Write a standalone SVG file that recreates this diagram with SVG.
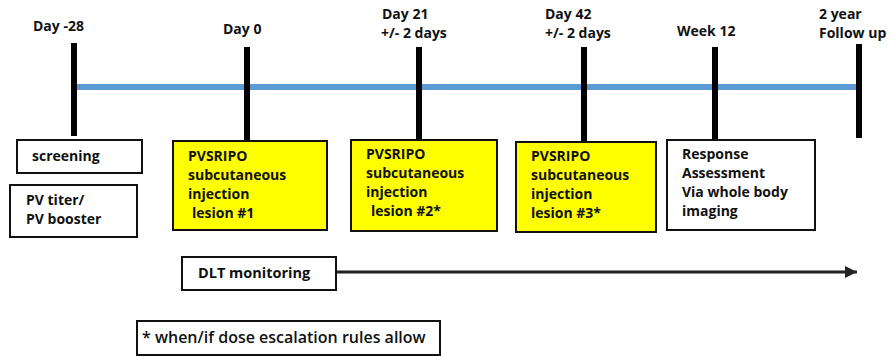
<svg xmlns="http://www.w3.org/2000/svg" width="894" height="356" viewBox="0 0 894 356">
<style>
text{font-family:"Open Sans","DejaVu Sans",sans-serif;font-weight:700;font-size:14px;fill:#111}
.box{fill:#fff;stroke:#111;stroke-width:2}
.yb{fill:#ffff00;stroke:#111;stroke-width:2}
.tick{stroke:#000;stroke-width:6}
.foot{font-weight:600;font-size:16px}
.dl{font-size:14.5px}
</style>
<defs>
<marker id="ah" viewBox="0 0 10 10" refX="10" refY="5" markerWidth="4" markerHeight="4" orient="auto" markerUnits="strokeWidth">
<path d="M0,0 L10,5 L0,10 z" fill="#222"/>
</marker>
</defs>
<g id="connectors">
<line x1="77" y1="87" x2="857" y2="87" stroke="#5b9bd5" stroke-width="6"/>
<line class="tick" x1="74" y1="43" x2="74" y2="136"/>
<line class="tick" x1="247" y1="47" x2="247" y2="141"/>
<line class="tick" x1="419" y1="47" x2="419" y2="140"/>
<line class="tick" x1="584" y1="47" x2="584" y2="142"/>
<line class="tick" x1="715" y1="47" x2="715" y2="140"/>
<line class="tick" x1="859" y1="44" x2="859" y2="138"/>
<line x1="336" y1="272" x2="857" y2="272" stroke="#222" stroke-width="3" marker-end="url(#ah)"/>
</g>
<g id="labels">
<text x="33" y="31">Day -28</text>
<text x="223" y="34">Day 0</text>
<text x="382" y="19">Day 21</text>
<text x="381" y="38">+/- 2 days</text>
<text x="545" y="19">Day 42</text>
<text x="545" y="38">+/- 2 days</text>
<text x="677" y="36">Week 12</text>
<text x="819" y="19">2 year</text>
<text x="819" y="38">Follow up</text>
</g>
<g id="screening">
<rect class="box" x="17" y="140" width="125" height="33"/>
<text x="32" y="161">screening</text>
</g>
<g id="pv-titer">
<rect class="box" x="10" y="185" width="127" height="52"/>
<text x="26" y="205">PV titer/</text>
<text x="26" y="224">PV booster</text>
</g>
<g id="lesion1">
<rect class="yb" x="173" y="141" width="154" height="89"/>
<text x="188" y="161">PVSRIPO</text>
<text x="188" y="180">subcutaneous</text>
<text x="188" y="199">injection</text>
<text x="192" y="218">lesion #1</text>
</g>
<g id="lesion2">
<rect class="yb" x="351" y="140" width="146" height="91"/>
<text x="366" y="159">PVSRIPO</text>
<text x="366" y="178">subcutaneous</text>
<text x="366" y="197">injection</text>
<text x="371" y="216">lesion #2*</text>
</g>
<g id="lesion3">
<rect class="yb" x="516" y="142" width="140" height="90"/>
<text x="531" y="161">PVSRIPO</text>
<text x="531" y="180">subcutaneous</text>
<text x="531" y="199">injection</text>
<text x="531" y="218">lesion #3*</text>
</g>
<g id="response">
<rect class="box" x="667" y="140" width="148" height="90"/>
<text x="682" y="159">Response</text>
<text x="682" y="178">Assessment</text>
<text x="682" y="197">Via whole body</text>
<text x="682" y="216">imaging</text>
</g>
<g id="dlt">
<rect class="box" x="182" y="257" width="154" height="33"/>
<text class="dl" x="198" y="278">DLT monitoring</text>
</g>
<g id="footnote">
<rect class="box" x="137" y="321" width="303" height="34"/>
<text class="foot" x="142" y="343">* when/if dose escalation rules allow</text>
</g>
</svg>
